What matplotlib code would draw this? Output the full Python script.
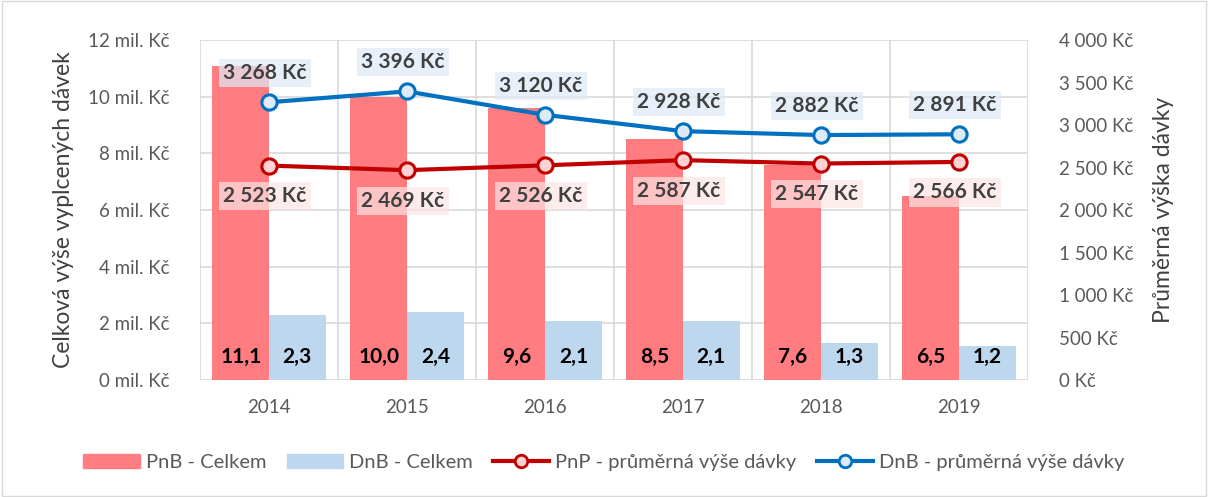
import numpy as np
import matplotlib
matplotlib.use('Agg')
import matplotlib.pyplot as plt
from matplotlib.lines import Line2D
from matplotlib.patches import Patch

plt.rcParams['font.family'] = ['Lato', 'DejaVu Sans']

years = ['2014', '2015', '2016', '2017', '2018', '2019']
pnb_total = [11.1, 10.0, 9.6, 8.5, 7.6, 6.5]      # mil. Kč
dnb_total = [2.3, 2.4, 2.1, 2.1, 1.3, 1.2]        # mil. Kč
pnp_avg = [2523, 2469, 2526, 2587, 2547, 2566]    # Kč
dnb_avg = [3268, 3396, 3120, 2928, 2882, 2891]    # Kč

def fmt_num(v):
    return f'{v:,}'.replace(',', ' ') + ' Kč'

fig = plt.figure(figsize=(12.08, 4.97), dpi=100)
ax = fig.add_axes([0.1656, 0.2354, 0.6854, 0.684])
ax2 = ax.twinx()

x = np.arange(len(years))
w = 0.41
red = '#ff7c80'
lblue = '#bdd7ee'
ax.bar(x - w / 2, pnb_total, w, color=red, zorder=2)
ax.bar(x + w / 2, dnb_total, w, color=lblue, zorder=2)
for i in range(len(years)):
    ax.text(x[i] - w / 2, 0.82, f'{pnb_total[i]:.1f}'.replace('.', ','), ha='center', va='center',
            fontsize=15, fontweight='bold', color='black', zorder=5)
    ax.text(x[i] + w / 2, 0.82, f'{dnb_total[i]:.1f}'.replace('.', ','), ha='center', va='center',
            fontsize=15, fontweight='bold', color='black', zorder=5)

ax.set_xlim(-0.5, len(years) - 0.5)
ax.set_ylim(0, 12)
ax.set_yticks(range(0, 13, 2))
ax.set_yticklabels([f'{v} mil. Kč' for v in range(0, 13, 2)])
ax.set_xticks(x)
ax.set_xticklabels(years)
ax.set_xticks(np.arange(-0.5, len(years), 1), minor=True)
ax.grid(axis='y', color='#d9d9d9', linewidth=1.2, zorder=0)
ax.grid(axis='x', which='minor', color='#d9d9d9', linewidth=1.2, zorder=0)
ax.tick_params(axis='x', which='both', length=0, labelsize=13.5, labelcolor='#595959', pad=14)
ax.tick_params(axis='y', length=0, labelsize=13.5, labelcolor='#595959', pad=22)
ax.set_ylabel('Celková výše vyplcených dávek', fontsize=16.5, color='#404040', labelpad=10)
for s in ax.spines.values():
    s.set_visible(False)
for s in ax2.spines.values():
    s.set_visible(False)

ax2.set_ylim(0, 4000)
ax2.set_yticks(range(0, 4001, 500))
ax2.set_yticklabels([fmt_num(v) for v in range(0, 4001, 500)])
ax2.tick_params(axis='y', length=0, labelsize=13.5, labelcolor='#595959', pad=22)
ax2.set_ylabel('Průměrná výška dávky', fontsize=16.5, color='#404040', labelpad=14)

dred = '#c00000'
dblue = '#0070c0'
ax2.plot(x, pnp_avg, color=dred, lw=3, marker='o', ms=11, mfc='#ffd1d1', mec=dred, mew=2.2, zorder=4)
ax2.plot(x, dnb_avg, color=dblue, lw=3, marker='o', ms=11, mfc='#deebf7', mec=dblue, mew=2.2, zorder=4)
for i in range(len(years)):
    ax2.annotate(fmt_num(dnb_avg[i]), (x[i], dnb_avg[i]), xytext=(-3, 21), textcoords='offset points',
                 ha='center', va='center', fontsize=15, fontweight='bold', color='#404040', zorder=6,
                 bbox=dict(boxstyle='square,pad=0.2', fc='#deebf7', ec='none', alpha=0.7))
    ax2.annotate(fmt_num(pnp_avg[i]), (x[i], pnp_avg[i]), xytext=(-3, -22), textcoords='offset points',
                 ha='center', va='center', fontsize=15, fontweight='bold', color='#404040', zorder=6,
                 bbox=dict(boxstyle='square,pad=0.2', fc='#fde4e4', ec='none', alpha=0.7))

handles = [Patch(color=red), Patch(color=lblue),
           Line2D([], [], color=dred, lw=3, marker='o', ms=9, mfc='#ffd1d1', mec=dred, mew=2),
           Line2D([], [], color=dblue, lw=3, marker='o', ms=9, mfc='#deebf7', mec=dblue, mew=2)]
labels = ['PnB - Celkem', 'DnB - Celkem', 'PnP - průměrná výše dávky', 'DnB - průměrná výše dávky']
fig.legend(handles, labels, loc='center', bbox_to_anchor=(0.5, 0.07), ncol=4, frameon=False,
           fontsize=14.5, labelcolor='#595959', handlelength=2.8, handletextpad=0.3, columnspacing=1.0)

fig.add_artist(plt.Rectangle((0.002, 0.002), 0.996, 0.996, transform=fig.transFigure,
                             fill=False, ec='#d9d9d9', lw=1))
fig.savefig('out.png', dpi=100)
